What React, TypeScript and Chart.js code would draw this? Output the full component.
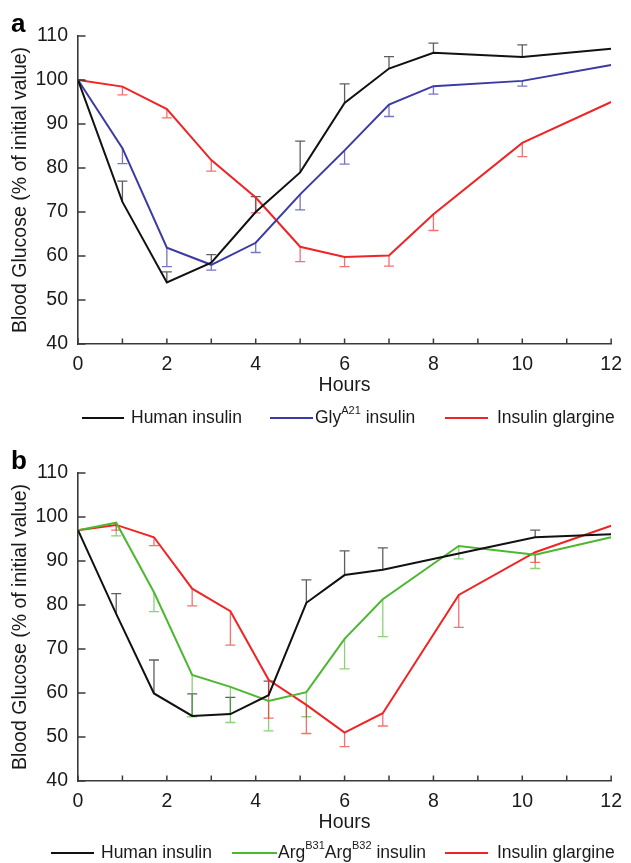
import React, { useEffect, useRef } from 'react';
import { Chart, registerables } from 'chart.js';
Chart.register(...registerables);

const FONT = '"Liberation Sans", Arial, Helvetica, sans-serif';
const AXIS = '#3a3a3a';
const TEXT = '#1a1a1a';

// ---------- Panel a ----------
const hoursA = [0, 1, 2, 3, 4, 5, 6, 7, 8, 10, 12];
const humanA = [100, 72.3, 54, 58.5, 70, 79, 94.8, 102.6, 106.2, 105.2, 107.1];
const humanACap = [null, 77, 56.4, 60.3, 73.5, 86.1, 99.1, 105.3, 108.4, 108, null];
const glyA = [100, 84.5, 61.9, 58, 63, 74, 84, 94.4, 98.6, 99.8, 103.4];
const glyACap = [null, 81, 57.6, 56.8, 60.8, 70.5, 80.9, 91.7, 96.8, 98.6, null];
const glargineA = [100, 98.5, 93.4, 81.8, 73.3, 62.1, 59.8, 60.1, 69.5, 85.7, 95];
const glargineACap = [null, 96.6, 91.4, 79.3, 69.8, 58.7, 57.6, 57.7, 65.8, 82.6, null];

// ---------- Panel b ----------
const hoursB = [0, 0.86, 1.71, 2.57, 3.43, 4.29, 5.14, 6, 6.86, 8.57, 10.29, 12];
const humanB = [97, 78, 59.9, 54.8, 55.2, 59.5, 80.5, 86.8, 88, 91.7, 95.4, 96.1];
const humanBCap = [null, 82.6, 67.5, 59.8, 59, 62.7, 85.7, 92.3, 93, null, 97, null];
const argB = [97, 98.7, 82.9, 64.1, 61.4, 58.2, 60.2, 72.3, 81.3, 93.4, 91.4, 95.4];
const argBCap = [null, 95.7, 78.5, 54.6, 53.3, 51.4, 54.6, 65.5, 72.8, 90.5, 88.3, null];
const glargineB = [97, 98.2, 95.4, 83.7, 78.6, 63, 57.3, 51, 55.4, 82.3, 92, 98];
const glargineBCap = [null, 97, 93.5, 79.8, 70.9, 54.3, 50.8, 47.8, 52.5, 74.9, 89.7, null];

// ---------- Labels ----------
const yTitle = 'Blood Glucose (% of initial value)';
const xTitle = 'Hours';
const yMin = 40;
const yMax = 110;
const xMin = 0;
const xMax = 12;

const BLACK = '#111111';
const BLUE = '#3a3aa6';
const RED = '#f02424';
const GREEN = '#4cb830';
const BLACK_E = 'rgba(40,40,40,0.75)';
const BLUE_E = 'rgba(58,58,166,0.7)';
const RED_E = 'rgba(240,36,36,0.65)';
const GREEN_E = 'rgba(76,184,48,0.65)';

type Part = [string, boolean];
type LegendItem = { parts: Part[]; color: string; x0: number; x1: number; tx: number };

const legendA: LegendItem[] = [
  { parts: [['Human insulin', false]], color: BLACK, x0: 82, x1: 124, tx: 131 },
  { parts: [['Gly', false], ['A21', true], [' insulin', false]], color: BLUE, x0: 270, x1: 313, tx: 315 },
  { parts: [['Insulin glargine', false]], color: RED, x0: 445, x1: 488, tx: 497 },
];
const legendB: LegendItem[] = [
  { parts: [['Human insulin', false]], color: BLACK, x0: 51, x1: 94, tx: 101 },
  { parts: [['Arg', false], ['B31', true], ['Arg', false], ['B32', true], [' insulin', false]], color: GREEN, x0: 232, x1: 277, tx: 278 },
  { parts: [['Insulin glargine', false]], color: RED, x0: 445, x1: 488, tx: 497 },
];

function decor(letter: string, letterY: number, legend: LegendItem[], legendY: number) {
  return {
    id: 'decor',
    beforeDatasetsDraw(chart: any) {
      const { ctx, scales } = chart;
      const x = scales.x;
      const y = scales.y;
      ctx.save();
      chart.data.datasets.forEach((ds: any) => {
        ds.data.forEach((p: any, i: number) => {
          const cap = ds.errCaps[i];
          if (cap == null) return;
          const px = x.getPixelForValue(p.x);
          const py = y.getPixelForValue(p.y);
          const pc = y.getPixelForValue(cap);
          ctx.strokeStyle = ds.errColor;
          ctx.lineWidth = 1.3;
          ctx.beginPath();
          ctx.moveTo(px, py);
          ctx.lineTo(px, pc);
          ctx.moveTo(px - 5, pc);
          ctx.lineTo(px + 5, pc);
          ctx.stroke();
        });
      });
      ctx.restore();
    },
    afterDraw(chart: any) {
      const { ctx, scales, chartArea } = chart;
      const x = scales.x;
      const y = scales.y;
      ctx.save();
      ctx.strokeStyle = AXIS;
      ctx.lineWidth = 1.5;
      ctx.beginPath();
      x.ticks.forEach((t: any) => {
        const px = x.getPixelForValue(t.value);
        ctx.moveTo(px, chartArea.bottom);
        ctx.lineTo(px, chartArea.bottom - 5.5);
      });
      y.ticks.forEach((t: any) => {
        const py = y.getPixelForValue(t.value);
        ctx.moveTo(chartArea.left, py);
        ctx.lineTo(chartArea.left + 7.5, py);
      });
      ctx.stroke();

      // panel letter
      ctx.fillStyle = '#000';
      ctx.font = `bold 26px ${FONT}`;
      ctx.textAlign = 'left';
      ctx.textBaseline = 'alphabetic';
      ctx.fillText(letter, 11, letterY);

      // legend
      legend.forEach((it) => {
        ctx.strokeStyle = it.color;
        ctx.lineWidth = 2;
        ctx.beginPath();
        ctx.moveTo(it.x0, legendY);
        ctx.lineTo(it.x1, legendY);
        ctx.stroke();
        let tx = it.tx;
        ctx.fillStyle = TEXT;
        ctx.textBaseline = 'middle';
        it.parts.forEach(([s, sup]) => {
          if (sup) {
            ctx.font = `11px ${FONT}`;
            ctx.fillText(s, tx, legendY - 7);
          } else {
            ctx.font = `17.5px ${FONT}`;
            ctx.fillText(s, tx, legendY);
          }
          tx += ctx.measureText(s).width;
        });
      });
      ctx.restore();
    },
  };
}

function toPoints(xs: number[], ys: number[]) {
  return xs.map((v, i) => ({ x: v, y: ys[i] }));
}

function makeConfig(
  datasets: any[],
  topPad: number,
  bottomPad: number,
  plugin: any
) {
  return {
    type: 'line',
    data: { datasets },
    plugins: [plugin],
    options: {
      animation: false,
      responsive: false,
      layout: { padding: { left: 0, top: topPad, right: 14, bottom: bottomPad } },
      plugins: { legend: { display: false }, tooltip: { enabled: false } },
      elements: { point: { radius: 0 }, line: { tension: 0, borderWidth: 2 } },
      scales: {
        x: {
          type: 'linear',
          min: xMin,
          max: xMax,
          grid: { display: false, drawTicks: false },
          border: { display: true, color: AXIS, width: 1.6 },
          ticks: {
            stepSize: 1,
            autoSkip: false,
            maxRotation: 0,
            padding: 9,
            color: TEXT,
            font: { family: FONT, size: 19.5, lineHeight: 1.2 },
            callback: (v: any) => (Number(v) % 2 === 0 ? String(v) : ''),
          },
          title: {
            display: true,
            text: xTitle,
            color: TEXT,
            padding: { top: 0, bottom: 0 },
            font: { family: FONT, size: 19.5, lineHeight: 1.2 },
          },
          afterFit: (s: any) => {
            s.height = 53;
          },
        },
        y: {
          min: yMin,
          max: yMax,
          grid: { display: false, drawTicks: false },
          border: { display: true, color: AXIS, width: 1.6 },
          ticks: {
            stepSize: 10,
            padding: 10,
            color: TEXT,
            font: { family: FONT, size: 19.5, lineHeight: 1.2 },
          },
          title: {
            display: true,
            text: yTitle,
            color: TEXT,
            padding: { top: 9, bottom: 0 },
            font: { family: FONT, size: 19.5, lineHeight: 1.2 },
          },
          afterFit: (s: any) => {
            s.width = 78;
          },
        },
      },
    },
  };
}

function ds(label: string, xs: number[], ys: number[], caps: (number | null)[], color: string, errColor: string) {
  return {
    label,
    data: toPoints(xs, ys),
    borderColor: color,
    backgroundColor: color,
    borderWidth: 2,
    fill: false,
    errCaps: caps,
    errColor,
  };
}

function Panel({ config, height }: { config: () => any; height: number }) {
  const ref = useRef<HTMLCanvasElement | null>(null);
  useEffect(() => {
    if (!ref.current) return;
    const chart = new Chart(ref.current, config() as any);
    return () => chart.destroy();
  }, []);
  return <canvas ref={ref} width={631} height={height} style={{ display: 'block', width: 631, height }} />;
}

export default function App() {
  const cfgA = () =>
    makeConfig(
      [
        ds('Human insulin', hoursA, humanA, humanACap, BLACK, BLACK_E),
        ds('GlyA21 insulin', hoursA, glyA, glyACap, BLUE, BLUE_E),
        ds('Insulin glargine', hoursA, glargineA, glargineACap, RED, RED_E),
      ],
      36,
      430 - 344 - 53,
      decor('a', 32, legendA, 418)
    );
  const cfgB = () =>
    makeConfig(
      [
        ds('Human insulin', hoursB, humanB, humanBCap, BLACK, BLACK_E),
        ds('ArgB31ArgB32 insulin', hoursB, argB, argBCap, GREEN, GREEN_E),
        ds('Insulin glargine', hoursB, glargineB, glargineBCap, RED, RED_E),
      ],
      43,
      433 - 351 - 53,
      decor('b', 39, legendB, 423)
    );
  return (
    <div style={{ position: 'absolute', left: 0, top: 0, width: 631, height: 863, background: '#fff' }}>
      <Panel config={cfgA} height={430} />
      <Panel config={cfgB} height={433} />
    </div>
  );
}
